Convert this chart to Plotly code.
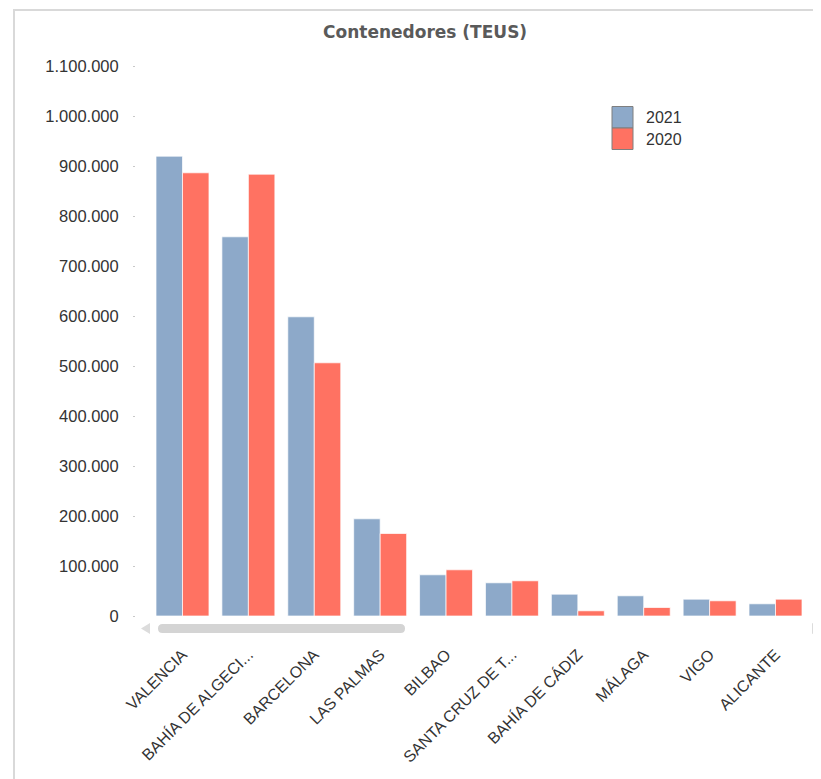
import plotly.graph_objects as go

# ---- data ----
ports = ["VALENCIA", "BAHÍA DE ALGECI...", "BARCELONA", "LAS PALMAS", "BILBAO",
         "SANTA CRUZ DE T...", "BAHÍA DE CÁDIZ", "MÁLAGA", "VIGO", "ALICANTE"]
teus_2021 = [919600, 758400, 598400, 194400, 82400, 66400, 43600, 40400, 33600, 24400]
teus_2020 = [886400, 883600, 506400, 165000, 92400, 70400, 10400, 17000, 30400, 33600]
series_names = ["2021", "2020"]
y_tick_values = [0, 100000, 200000, 300000, 400000, 500000, 600000, 700000,
                 800000, 900000, 1000000, 1100000]
title_text = "Contenedores (TEUS)"

# ---- styling ----
OFF = 8  # page body margin
W, H = 821 - OFF, 779 - OFF
L, R, T, B = 136 - OFF, 6, 56 - OFF, 163
PW, PH = W - L - R, H - T - B
COL_2021 = "#8DA9C9"
COL_2020 = "#FF7262"
FONT = "Liberation Sans, Arial, sans-serif"


def px(x):  # screen x -> paper
    return (x - OFF - L) / PW


def py(y):  # screen y -> paper
    return (H - B - (y - OFF)) / PH


fig = go.Figure()
fig.add_trace(go.Bar(name=series_names[0], x=ports, y=teus_2021,
                     marker=dict(color=COL_2021, line=dict(color="rgba(255,255,255,0.7)", width=1))))
fig.add_trace(go.Bar(name=series_names[1], x=ports, y=teus_2020,
                     marker=dict(color=COL_2020, line=dict(color="rgba(255,255,255,0.7)", width=1))))

shapes = []
# frame lines
shapes.append(dict(type="line", xref="paper", yref="paper", x0=px(14), x1=px(14), y0=py(10), y1=py(785),
                   line=dict(color="#d9d9d9", width=2)))
shapes.append(dict(type="line", xref="paper", yref="paper", x0=px(13), x1=px(830), y0=py(10), y1=py(10),
                   line=dict(color="#d9d9d9", width=2)))
# scrollbar thumb (rounded)
x0, x1, y0, y1, r = 158, 405, 624, 633, 4.5
ym = (y0 + y1) / 2
path = (f"M {px(x0 + r)},{py(y0)} L {px(x1 - r)},{py(y0)} Q {px(x1)},{py(y0)} {px(x1)},{py(ym)} "
        f"Q {px(x1)},{py(y1)} {px(x1 - r)},{py(y1)} L {px(x0 + r)},{py(y1)} "
        f"Q {px(x0)},{py(y1)} {px(x0)},{py(ym)} Q {px(x0)},{py(y0)} {px(x0 + r)},{py(y0)} Z")
shapes.append(dict(type="path", xref="paper", yref="paper", path=path,
                   fillcolor="#d4d4d4", line=dict(width=0)))
# scroll arrows
shapes.append(dict(type="path", xref="paper", yref="paper",
                   path=f"M {px(150)},{py(623)} L {px(141)},{py(628.5)} L {px(150)},{py(634)} Z",
                   fillcolor="#dcdcdc", line=dict(width=0)))
shapes.append(dict(type="path", xref="paper", yref="paper",
                   path=f"M {px(812)},{py(623)} L {px(821)},{py(628.5)} L {px(812)},{py(634)} Z",
                   fillcolor="#dcdcdc", line=dict(width=0)))
# legend swatches
shapes.append(dict(type="rect", xref="paper", yref="paper", x0=px(612), x1=px(633), y0=py(106.5), y1=py(128),
                   fillcolor=COL_2021, line=dict(color="#7f7f7f", width=1)))
shapes.append(dict(type="rect", xref="paper", yref="paper", x0=px(612), x1=px(633), y0=py(128), y1=py(149.5),
                   fillcolor=COL_2020, line=dict(color="#7f7f7f", width=1)))

annotations = [
    dict(text=title_text, xref="paper", yref="paper", x=px(425), y=py(32), xanchor="center", yanchor="middle",
         showarrow=False, font=dict(family="DejaVu Sans", size=17, color="#5a5a5a", weight="bold")),
    dict(text=series_names[0], xref="paper", yref="paper", x=px(644), y=py(117.5), xanchor="left",
         yanchor="middle", showarrow=False, font=dict(family=FONT, size=16, color="#333333")),
    dict(text=series_names[1], xref="paper", yref="paper", x=px(644), y=py(139), xanchor="left",
         yanchor="middle", showarrow=False, font=dict(family=FONT, size=16, color="#333333")),
]

cat_w = 65.9
x_lo = -(182.5 - 136) / cat_w
x_hi = 9 + (815 - 775.5) / cat_w

fig.update_layout(
    width=W, height=H,
    margin=dict(l=L, r=R, t=T, b=B, pad=0),
    paper_bgcolor="white", plot_bgcolor="white",
    barmode="group", bargap=0.196, bargroupgap=0,
    showlegend=False,
    separators=",.",
    font=dict(family=FONT, size=16, color="#333333"),
    shapes=shapes, annotations=annotations,
    xaxis=dict(range=[x_lo, x_hi], showgrid=False, zeroline=False, showline=False,
               ticks="outside", ticklen=22, tickcolor="rgba(0,0,0,0)", tickangle=-45,
               tickfont=dict(family=FONT, size=16, color="#333333")),
    yaxis=dict(range=[0, 1120000], tickvals=y_tick_values, tickformat=",.0f",
               showgrid=False, zeroline=False, showline=False,
               ticks="outside", ticklen=2, tickwidth=1, tickcolor="#c8c8c8",
               ticklabelstandoff=11,
               tickfont=dict(family=FONT, size=16.5, color="#333333")),
)

fig.write_html("out.html")
